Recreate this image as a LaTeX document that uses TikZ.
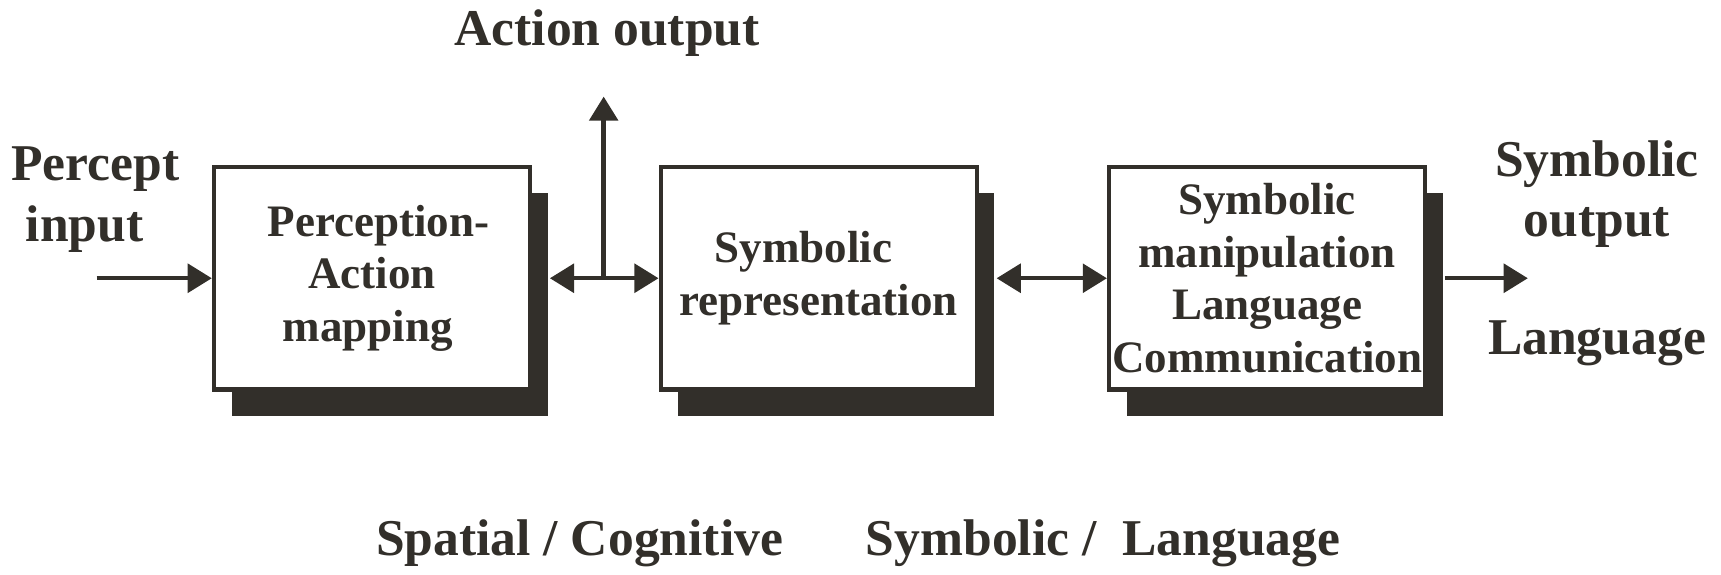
\documentclass[tikz,border=0pt]{standalone}
\usepackage{fontspec}
\setmainfont{Liberation Serif}
\usetikzlibrary{arrows.meta,shadows}
\definecolor{ink}{RGB}{50,47,42}
\begin{document}
\begin{tikzpicture}[x=1pt,y=-1pt,
  txt/.style={font=\fontsize{41}{48}\selectfont\bfseries, text=ink, align=center, inner sep=0pt},
  lbl/.style={txt, font=\fontsize{47}{55}\selectfont\bfseries},
  blockbox/.style={txt, draw=ink, line width=4pt, fill=white, minimum width=288pt, minimum height=203pt,
     drop shadow={shadow xshift=16pt, shadow yshift=-24pt, fill=ink, opacity=1}},
  arr/.style={draw=ink, line width=4pt, -{Triangle[length=22pt,width=26pt]}},
  darr/.style={draw=ink, line width=4pt, {Triangle[length=22pt,width=26pt]}-{Triangle[length=22pt,width=26pt]}}
]
\useasboundingbox (0,0) rectangle (1568,523);
\node[blockbox] (b1) at (339,253.5) {\hspace*{12pt}Perception-\\Action\hspace*{12pt}\\mapping\hspace*{8pt}};
\node[blockbox] (b2) at (746,253.5) {Symbolic\hspace*{28pt}\\representation};
\node[blockbox] (b3) at (1154.5,253.5) {Symbolic\\manipulation\\Language\hspace*{30pt}\\Communication};

\node[lbl] (lin) at (87,182) {Percept\\input\hspace*{20pt}};
\node[lbl] (lact) at (553,30) {Action output};
\node[lbl] (lsym) at (1455,177) {Symbolic\\output};
\node[lbl] (llang) at (1455,313) {Language};
\node[lbl] (lspat) at (528,495) {Spatial / Cognitive};
\node[lbl] (lsl) at (1005,495) {Symbolic /\ \ Language};

\coordinate (pin) at (88,253.5);
\coordinate (j) at (550,253.5);
\coordinate (up) at (550,88);
\coordinate (pout) at (1392,253.5);

\draw[arr] (pin) -- (b1.west);
\draw[darr] ([xshift=16pt]b1.east) -- (b2.west);
\draw[arr] (j) -- (up);
\draw[darr] ([xshift=16pt]b2.east) -- (b3.west);
\draw[arr] ([xshift=16pt]b3.east) -- (pout);
\end{tikzpicture}
\end{document}
